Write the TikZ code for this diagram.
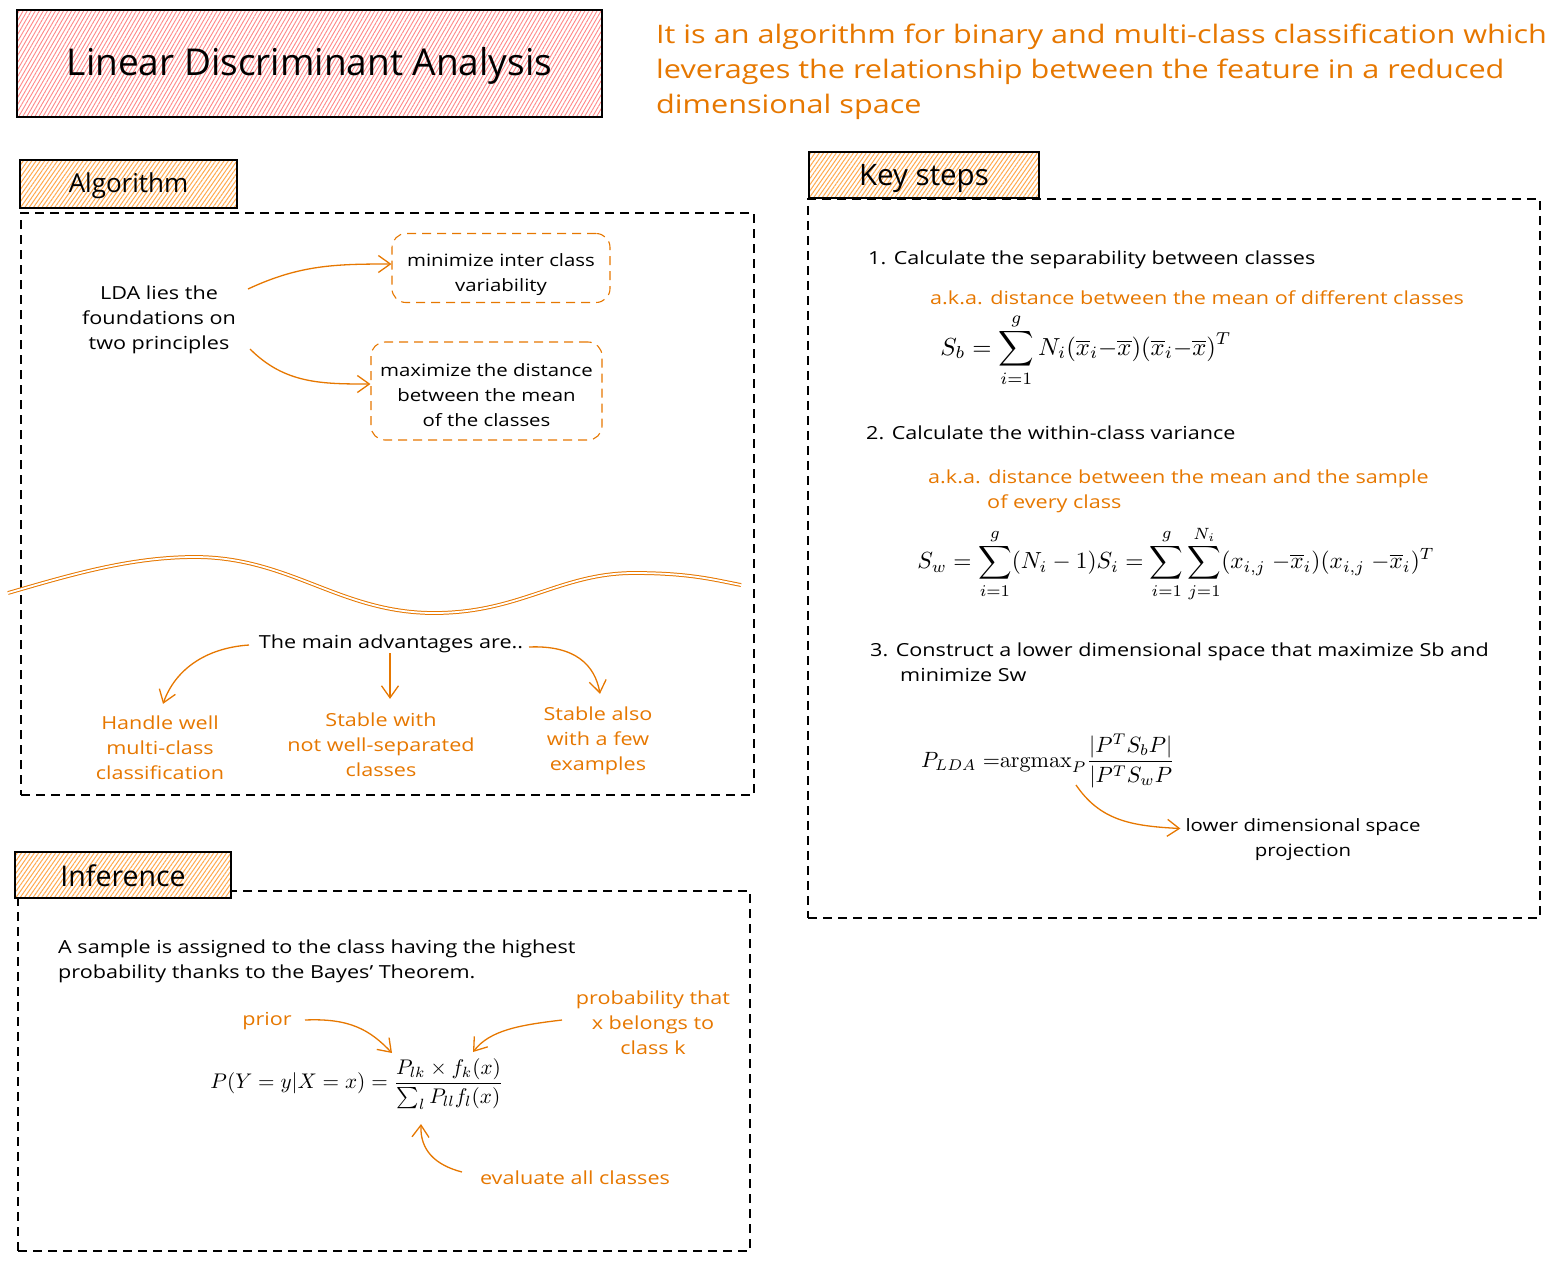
\documentclass[tikz,border=0pt]{standalone}
\usepackage{amsmath}
\usepackage{graphicx}
\usepackage[no-math]{fontspec}
\setmainfont{Open Sans}[FakeStretch=1.2]
\newfontfamily\hdrfont{Open Sans}
\usetikzlibrary{arrows.meta,patterns.meta}
\definecolor{lorange}{HTML}{E67700}
\definecolor{hatchor}{HTML}{FFA94D}
\definecolor{hatchred}{HTML}{FF8787}
\newcommand{\pushdown}[2]{\raisebox{0pt}[\dimexpr\height+#1\relax][\depth]{#2}}
\tikzset{
 txt/.style={font=\fontsize{18}{25}\selectfont, inner sep=0pt, align=center, yshift=-3pt},
 btxt/.style={txt, font=\fontsize{17}{25}\selectfont},
 otxt/.style={txt, text=lorange},
 dbox/.style={draw=black, line width=1.1pt, dash pattern=on 9pt off 6pt, inner sep=0pt},
 obox/.style={draw=lorange, line width=1.1pt, dash pattern=on 9pt off 6pt, rounded corners=14pt},
 hdr/.style={draw=black, line width=1.3pt, preaction={fill=white}, pattern={Lines[angle=55,distance=3.5pt,line width=1pt]}, pattern color=hatchor, inner sep=0pt},
 arr/.style={draw=lorange, line width=1.3pt, -{Straight Barb[length=12pt,width=17pt]}},
 wave/.style={draw=lorange, line width=1pt, double=white, double distance=1.8pt},
}
\begin{document}
\begin{tikzpicture}[x=1pt,y=1pt]
\useasboundingbox (0,0) rectangle (1554,-1262);
% title
\node[draw=black, line width=1.4pt, preaction={fill=white}, pattern={Lines[angle=60,distance=3.5pt,line width=0.9pt]}, pattern color=hatchred, minimum width=585pt, minimum height=107pt, inner sep=0pt, font=\hdrfont\fontsize{37}{40}\selectfont] (title) at (309.5,-63.5) {\pushdown{4pt}{Linear Discriminant Analysis}};
\node[anchor=west, text=lorange, align=left, inner sep=0pt, font=\fontsize{25.5}{35}\selectfont] (desc) at (656,-72) {It is an algorithm for binary and multi-class classification which\\leverages the relationship between the feature in a reduced\\dimensional space};
% frames
\node[dbox, minimum width=733pt, minimum height=582pt] (algbox) at (387.5,-504) {};
\node[dbox, minimum width=732pt, minimum height=719pt] (keybox) at (1174,-558.5) {};
\node[dbox, minimum width=732pt, minimum height=360pt] (infbox) at (384,-1071) {};
% headers
\node[hdr, minimum width=217pt, minimum height=48pt, font=\hdrfont\fontsize{26}{30}\selectfont] (alg) at (128.5,-184) {\pushdown{4pt}{Algorithm}};
\node[hdr, minimum width=230pt, minimum height=46pt, font=\hdrfont\fontsize{29.5}{30}\selectfont] (keyh) at (924,-175) {\pushdown{8pt}{Key steps}};
\node[hdr, minimum width=216pt, minimum height=46pt, font=\hdrfont\fontsize{28.5}{30}\selectfont] (infh) at (123,-875) {\pushdown{2pt}{Inference}};
% algorithm
\node[txt] (lda) at (159,-317) {LDA lies the\\foundations on\\two principles};
\node[btxt, obox, minimum width=218pt, minimum height=69pt, yshift=3pt] (b1) at (501,-268) {\pushdown{12pt}{\begin{tabular}{@{}c@{}}minimize inter class\\variability\end{tabular}}};
\node[btxt, obox, minimum width=231pt, minimum height=98pt, yshift=3pt] (b2) at (486.5,-391) {\pushdown{10pt}{\begin{tabular}{@{}c@{}}maximize the distance\\between the mean\\of the classes\end{tabular}}};
\coordinate (a1s) at (248,-289);
\coordinate (a2s) at (250,-349);
\draw[arr] (a1s) to[out=25,in=180] ([yshift=4pt]b1.west);
\draw[arr] (a2s) to[out=-45,in=180] ([yshift=7pt]b2.west);
\draw[wave] (8,-593) .. controls (70,-575) and (130,-557) .. (195,-557) .. controls (290,-557) and (340,-613) .. (434,-613) .. controls (520,-613) and (560,-573) .. (634,-573) .. controls (690,-573) and (715,-580) .. (741,-585);
\node[txt] (adv) at (391,-641) {The main advantages are..};
\node[otxt] (h1) at (160,-745) {Handle well\\multi-class\\classification};
\node[otxt] (h2) at (381,-742) {Stable with\\not well-separated\\classes};
\node[otxt] (h3) at (598,-738) {Stable also\\with a few\\examples};
\coordinate (l1) at (249,-645);
\coordinate (m1) at (390,-653);
\coordinate (r1) at (529,-647);
\draw[arr] (l1) .. controls (205,-648) and (175,-670) .. ([xshift=3pt,yshift=12pt]h1.north);
\draw[arr] (m1) -- ([yshift=14pt]m1 |- h2.north);
\draw[arr] (r1) .. controls (575,-645) and (595,-665) .. ([xshift=2pt,yshift=13pt]h3.north);
% key steps
\node[txt, anchor=west] (s1) at (868,-257) {1. Calculate the separability between classes};
\node[otxt, anchor=west] (s1a) at (930,-295) {a.k.a. distance between the mean of different classes};
\node[inner sep=0pt] (sb) at (1086,-350) {\resizebox{291pt}{!}{$\displaystyle S_b = \sum_{i=1}^{g} N_i(\overline{x}_i{-}\overline{x})(\overline{x}_i{-}\overline{x})^T$}};
\node[txt, anchor=west] (s2) at (866,-430) {2. Calculate the within-class variance};
\node[otxt, anchor=west, align=left] (s2a) at (928,-488.5) {a.k.a. distance between the mean and the sample\\\hspace*{59pt}of every class};
\node[inner sep=0pt] (sw) at (1176,-564) {\resizebox{517pt}{!}{$\displaystyle S_w = \sum_{i=1}^{g}(N_i-1)S_i = \sum_{i=1}^{g}\sum_{j=1}^{N_i}(x_{i,j}\;{-}\overline{x}_i)(x_{i,j}\;{-}\overline{x}_i)^T$}};
\node[txt, anchor=west, align=left] (s3) at (870,-659) {3. Construct a lower dimensional space that maximize Sb and\\\hspace*{30pt}minimize Sw};
\node[inner sep=0pt] (plda) at (1048,-761) {\resizebox{254pt}{!}{$\displaystyle P_{LDA}\;{=}\mathrm{argmax}_P\frac{|P^TS_bP|}{|P^TS_wP}$}};
\node[btxt] (proj) at (1303,-837) {lower dimensional space\\projection};
\coordinate (pa) at (1076,-785);
\draw[arr] (pa) .. controls (1100,-820) and (1130,-826) .. ([xshift=-5pt,yshift=11.5pt]proj.west);
% inference
\node[txt, anchor=west, align=left] (inf) at (58,-958.5) {A sample is assigned to the class having the highest\\probability thanks to the Bayes' Theorem.};
\node[otxt] (prior) at (267,-1018) {prior};
\node[otxt] (prob) at (653,-1020) {probability that\\x belongs to\\class k};
\node[inner sep=0pt] (bayes) at (357,-1084) {\resizebox{293pt}{!}{$\displaystyle P(Y=y|X=x) = \frac{P_{lk}\times f_k(x)}{\sum_l P_{ll}f_l(x)}$}};
\node[otxt] (eval) at (575,-1175) {evaluate all classes};
\coordinate (pr1) at (305,-1020);
\coordinate (pr2) at (392,-1053);
\coordinate (pb1) at (562,-1020);
\coordinate (pb2) at (473,-1052);
\coordinate (ev1) at (462,-1172);
\coordinate (ev2) at (421,-1124);
\draw[arr] (pr1) .. controls (350,-1018) and (370,-1030) .. (pr2);
\draw[arr] (pb1) .. controls (520,-1025) and (490,-1030) .. (pb2);
\draw[arr] (ev1) .. controls (435,-1165) and (420,-1150) .. (ev2);
\end{tikzpicture}
\end{document}
